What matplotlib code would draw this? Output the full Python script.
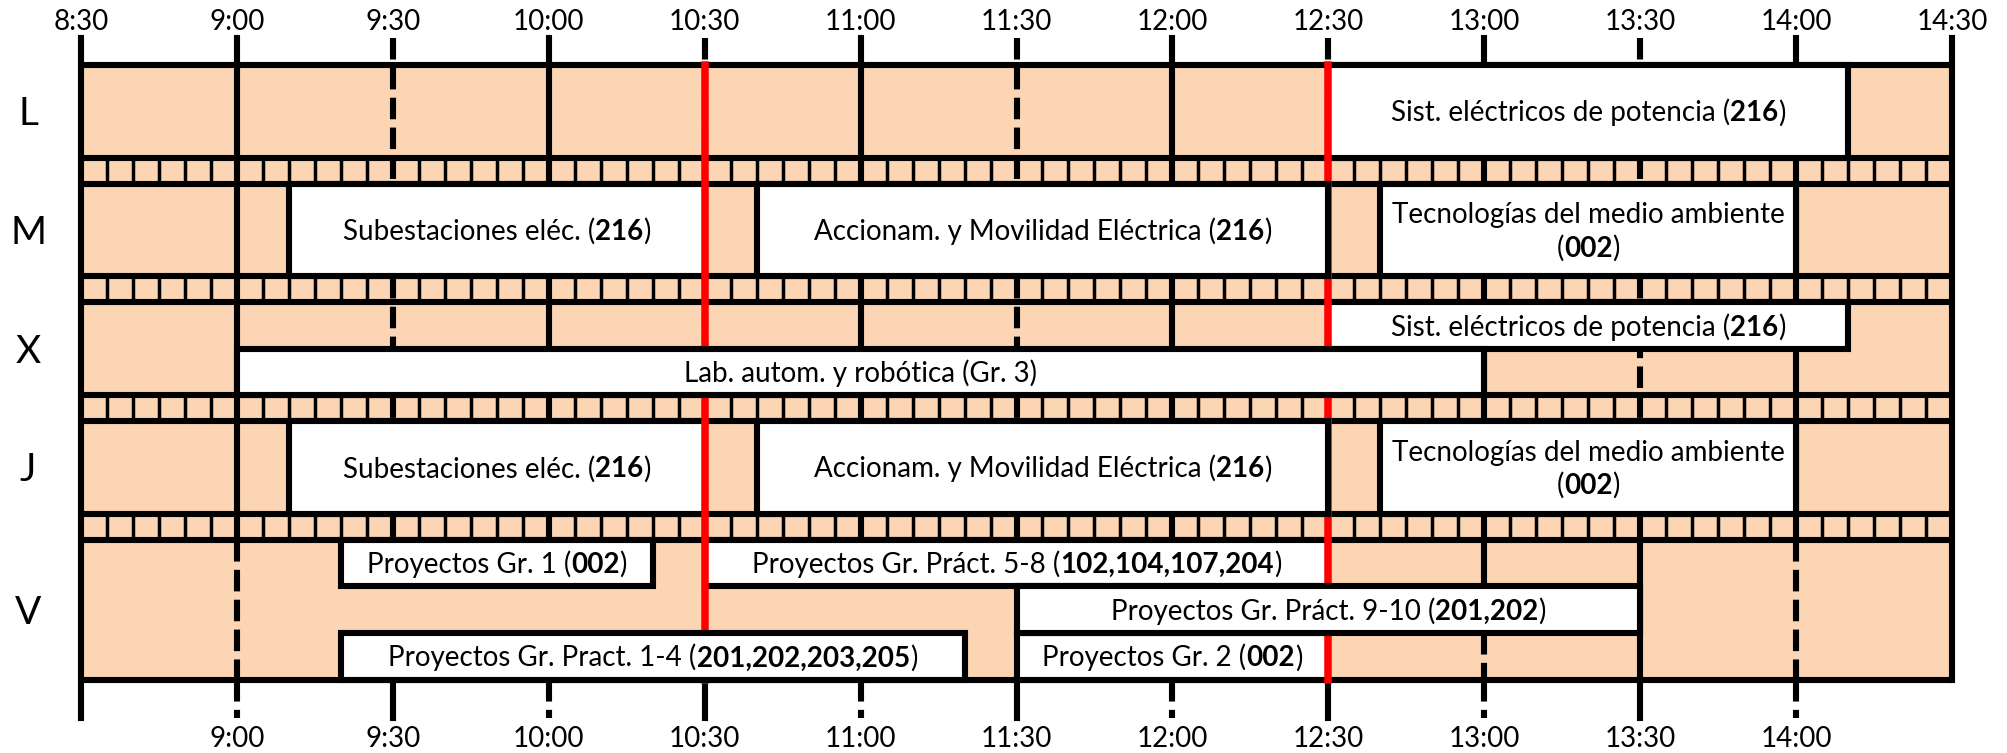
import matplotlib
matplotlib.use("Agg")
import matplotlib.pyplot as plt
from matplotlib.patches import Rectangle
from matplotlib.transforms import IdentityTransform

plt.rcParams['font.family'] = ['Lato', 'DejaVu Sans']
plt.rcParams['lines.scale_dashes'] = False

# -------------------------------
# data
# -------------------------------
days = ['L', 'M', 'X', 'J', 'V']
day_lanes = [1, 1, 2, 1, 3]

top_labels = ['8:30', '9:00', '9:30', '10:00', '10:30', '11:00', '11:30',
              '12:00', '12:30', '13:00', '13:30', '14:00', '14:30']
bottom_labels = ['9:00', '9:30', '10:00', '10:30', '11:00', '11:30',
                 '12:00', '12:30', '13:00', '13:30', '14:00']
red_times = ['10:30', '12:30']

ev_day = ['L', 'M', 'M', 'M', 'X', 'X', 'J', 'J', 'J', 'V', 'V', 'V', 'V', 'V']
ev_lane = [0, 0, 0, 0, 0, 1, 0, 0, 0, 0, 0, 1, 2, 2]
ev_start = ['12:30', '9:10', '10:40', '12:40', '12:30', '9:00', '9:10', '10:40',
            '12:40', '9:20', '10:30', '11:30', '9:20', '11:30']
ev_end = ['14:10', '10:30', '12:30', '14:00', '14:10', '13:00', '10:30', '12:30',
          '14:00', '10:20', '12:30', '13:30', '11:20', '12:30']
ev_text = [
    'Sist. eléctricos de potencia (**216**)',
    'Subestaciones eléc. (**216**)',
    'Accionam. y Movilidad Eléctrica (**216**)',
    'Tecnologías del medio ambiente\n(**002**)',
    'Sist. eléctricos de potencia (**216**)',
    'Lab. autom. y robótica (Gr. 3)',
    'Subestaciones eléc. (**216**)',
    'Accionam. y Movilidad Eléctrica (**216**)',
    'Tecnologías del medio ambiente\n(**002**)',
    'Proyectos Gr. 1 (**002**)',
    'Proyectos Gr. Práct. 5-8 (**102,104,107,204**)',
    'Proyectos Gr. Práct. 9-10 (**201,202**)',
    'Proyectos Gr. Pract. 1-4 (**201,202,203,205**)',
    'Proyectos Gr. 2 (**002**)',
]
# boxes drawn above the red lines
ev_over_red = [False, False, True, False, False, True, False, True, False,
               False, False, True, True, False]

# lines inside the friday band: time, first lane, last lane, style
v_line_time = ['9:00', '13:00', '13:00', '13:30', '14:00']
v_line_from = [0, 0, 2, 0, 0]
v_line_to = [3, 1, 3, 3, 3]
v_line_dashed = [True, False, True, False, True]


def hours(s):
    h, m = s.split(':')
    return int(h) + int(m) / 60


# -------------------------------
# layout (pixels from top)
# -------------------------------
W, H = 2008, 753
PEACH = '#FCD5B4'
LW = 4.4
THIN = 2.5
DASH = (0, (15.5, 6.0))
tick_top = 38
grid_top = 65
band_h = 92.5
strip_h = 26.2
v_h = 140
tick_len = 38
FS = 20

band_top, band_bot, strips = [], [], []
y = grid_top
for i, d in enumerate(days):
    h = v_h if i == len(days) - 1 else band_h
    band_top.append(y)
    band_bot.append(y + h)
    y += h
    if i < len(days) - 1:
        strips.append((y, y + strip_h))
        y += strip_h
v_top, v_bot = band_top[-1], band_bot[-1]

fig = plt.figure(figsize=(W / 100, H / 100), dpi=100)
ax = fig.add_axes([81 / W, 0, (1952 - 81) / W, 1])
ax.set_xlim(8.5, 14.5)
ax.set_ylim(H, 0)
ax.axis('off')

t0, t1 = hours(top_labels[0]), hours(top_labels[-1])

# background
ax.add_patch(Rectangle((t0, grid_top), t1 - t0, v_bot - grid_top,
                       fc=PEACH, ec='none', zorder=0))

# grid of the upper days
for lab in top_labels[1:-1]:
    t = hours(lab)
    ls = '-' if lab.endswith(':00') else DASH
    ax.plot([t, t], [tick_top, v_top], color='k', lw=LW, ls=ls,
            zorder=1, clip_on=False)

# small 5 minute cells in the separator strips
fine = [t0 + k * 5 / 60 for k in range(1, 72) if k % 6 != 0]
for s0, s1 in strips:
    for t in fine:
        ax.plot([t, t], [s0, s1], color='k', lw=THIN, zorder=1)

# lines inside friday band
lane_h = v_h / 3
for lab, l0, l1, dsh in zip(v_line_time, v_line_from, v_line_to, v_line_dashed):
    t = hours(lab)
    ax.plot([t, t], [v_top + l0 * lane_h, v_top + l1 * lane_h], color='k',
            lw=LW, ls=DASH if dsh else '-', zorder=1)

# bottom ticks
for lab in bottom_labels:
    t = hours(lab)
    ls = DASH if lab.endswith(':00') else '-'
    ax.plot([t, t], [v_bot, v_bot + tick_len], color='k', lw=LW, ls=ls,
            zorder=1, clip_on=False)

# outer vertical border
ax.plot([t0, t0], [tick_top, v_bot + tick_len], color='k', lw=LW, zorder=2, clip_on=False)
ax.plot([t1, t1], [tick_top, v_bot], color='k', lw=LW, zorder=2, clip_on=False)

# horizontal lines
hlines = [grid_top] + band_bot[:-1] + [s[1] for s in strips] + [v_bot]
for yy in hlines:
    ax.plot([t0, t1], [yy, yy], color='k', lw=LW, zorder=2, solid_capstyle='butt')

# red lines
for lab in red_times:
    t = hours(lab)
    ax.plot([t, t], [grid_top, v_bot], color='#FF0000', lw=5.4, zorder=3)


def draw_rich(xc, yc, markup, size):
    r = fig.canvas.get_renderer()
    cx, cy = ax.transData.transform((xc, yc))
    px = size * 100 / 72
    lines = markup.split('\n')
    gap = px * 1.2
    for i, line in enumerate(lines):
        texts = []
        for j, part in enumerate(line.split('**')):
            if not part:
                continue
            texts.append(ax.text(0, 0, part, transform=IdentityTransform(),
                                 fontsize=size, ha='left', va='baseline',
                                 fontweight='bold' if j % 2 else 'normal',
                                 zorder=6))
        widths = [t.get_window_extent(r).width for t in texts]
        x = cx - sum(widths) / 2
        base = cy + ((len(lines) - 1) / 2 - i) * gap - 0.36 * px
        for t, w in zip(texts, widths):
            t.set_position((x, base))
            x += w


# events
for d, lane, s, e, txt, over in zip(ev_day, ev_lane, ev_start, ev_end, ev_text, ev_over_red):
    k = days.index(d)
    lh = (band_bot[k] - band_top[k]) / day_lanes[k]
    y0 = band_top[k] + lane * lh
    ts, te = hours(s), hours(e)
    ax.add_patch(Rectangle((ts, y0), te - ts, lh, fc='white', ec='k', lw=LW,
                           zorder=4 if over else 2.5))
    draw_rich((ts + te) / 2, y0 + lh / 2, txt, FS)

# day labels
for k, d in enumerate(days):
    draw_rich(t0 - 53 / ((1952 - 81) / 6), (band_top[k] + band_bot[k]) / 2, d, 28)

# time labels
for lab in top_labels:
    draw_rich(hours(lab), 20, lab, FS)
for lab in bottom_labels:
    draw_rich(hours(lab), 737, lab, FS)

fig.savefig('out.png', dpi=100)
